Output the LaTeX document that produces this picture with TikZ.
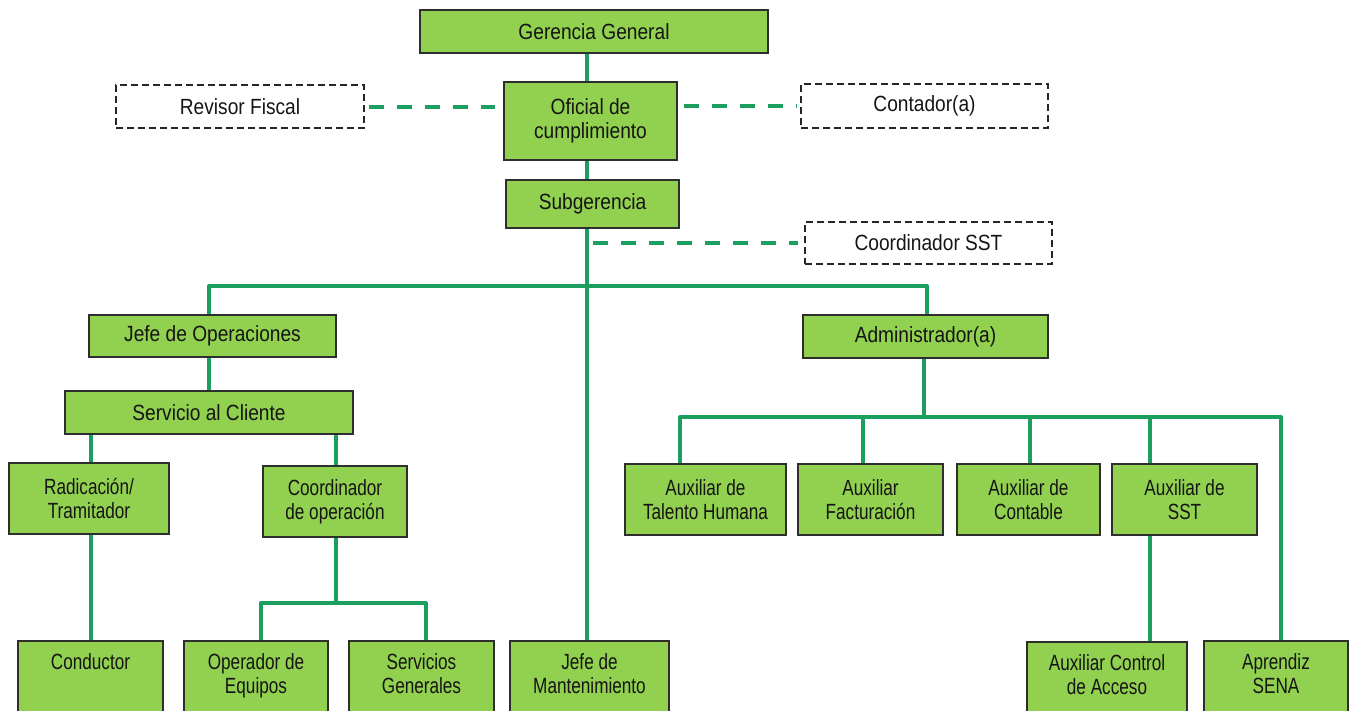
\documentclass[tikz,border=0pt]{standalone}
\usepackage{fontspec}
\setmainfont{Liberation Sans}
\newfontfamily\wideF[FakeStretch=0.87]{Liberation Sans}
\newfontfamily\narrowF[FakeStretch=0.78]{Liberation Sans}
\definecolor{boxgreen}{HTML}{92D050}
\definecolor{linegreen}{HTML}{1B9E5E}
\definecolor{txt}{HTML}{151515}
\definecolor{edge}{HTML}{2E2E2E}
\begin{document}
\begin{tikzpicture}[x=1pt,y=-1pt,
  box/.style={draw=edge, line width=1.5pt, fill=boxgreen, text=txt, align=center, inner sep=0pt},
  wbox/.style={box, font=\wideF\fontsize{22}{24}\selectfont},
  nbox/.style={box, font=\narrowF\fontsize{22}{24}\selectfont},
  dbox/.style={draw=black!85, dash pattern=on 7pt off 4pt, line width=1.3pt, fill=white, text=txt, align=center, inner sep=0pt, font=\wideF\fontsize{22}{24}\selectfont},
  conn/.style={draw=linegreen, line width=4pt, line join=round},
  dconn/.style={draw=linegreen, line width=4pt, dash pattern=on 15pt off 13pt},
]
\useasboundingbox (0,0) rectangle (1354,710);
\clip (0,0) rectangle (1354,710);

% top level
\node[wbox, minimum width=348pt, minimum height=43pt] (gg) at (594,31.5) {Gerencia General};
\node[wbox, minimum width=173pt, minimum height=78pt] (ofc) at (590.5,121) {Oficial de\\cumplimiento};
\node[dbox, minimum width=248pt, minimum height=43pt] (rev) at (240,106.5) {Revisor Fiscal};
\node[dbox, minimum width=247pt, minimum height=44pt] (con) at (924.5,106) {Contador(a)};
\node[wbox, minimum width=173pt, minimum height=48pt] (sub) at (592.5,204) {Subgerencia};
\node[dbox, minimum width=247pt, minimum height=42pt] (sst) at (928.5,243) {Coordinador SST};

% second level
\node[wbox, minimum width=247pt, minimum height=42pt] (jop) at (212.5,336) {Jefe de Operaciones};
\node[wbox, minimum width=245pt, minimum height=43pt] (adm) at (925.5,336.5) {Administrador(a)};
\node[wbox, minimum width=288pt, minimum height=43pt] (sac) at (209,412.5) {Servicio al Cliente};

% third level
\node[nbox, minimum width=160pt, minimum height=71pt] (rad) at (89,498.5) {Radicación/\\Tramitador};
\node[nbox, minimum width=144pt, minimum height=71pt] (cop) at (335,501.5) {Coordinador\\de operación};
\node[nbox, minimum width=161pt, minimum height=71pt] (ath) at (705.5,499.5) {Auxiliar de\\Talento Humana};
\node[nbox, minimum width=145pt, minimum height=71pt] (afa) at (870.5,499.5) {Auxiliar\\Facturación};
\node[nbox, minimum width=143pt, minimum height=71pt] (aco) at (1028.5,499.5) {Auxiliar de\\Contable};
\node[nbox, minimum width=145pt, minimum height=71pt] (asst) at (1184.5,499.5) {Auxiliar de\\SST};

% bottom level
\node[nbox, minimum width=145pt, minimum height=90pt] (cond) at (90.5,686) {Conductor\\\mbox{}\\\mbox{}};
\node[nbox, minimum width=144pt, minimum height=90pt] (oeq) at (256,686) {Operador de\\Equipos\\\mbox{}};
\node[nbox, minimum width=145pt, minimum height=90pt] (sgen) at (421.5,686) {Servicios\\Generales\\\mbox{}};
\node[nbox, minimum width=159pt, minimum height=90pt] (jman) at (589.5,686) {Jefe de\\Mantenimiento\\\mbox{}};
\node[nbox, minimum width=160pt, minimum height=90pt] (aca) at (1107,687) {Auxiliar Control\\de Acceso\\\mbox{}};
\node[nbox, minimum width=144pt, minimum height=90pt] (sena) at (1276,686) {Aprendiz\\SENA\\\mbox{}};

% helper coordinates
\coordinate (tx) at (587,0);
\coordinate (bar1) at (209,286);
\coordinate (bar2) at (927,286);
\coordinate (cx1) at (91,0);
\coordinate (cx2) at (336,0);
\coordinate (bm) at (336,603);
\coordinate (bl) at (261,603);
\coordinate (br) at (426,603);
\coordinate (ab) at (924,417);
\coordinate (al) at (680,417);
\coordinate (ar) at (1281,417);
\coordinate (xafa) at (863,417);
\coordinate (xaco) at (1030,417);
\coordinate (xsst) at (1150,417);

% solid connectors
\draw[conn] (gg.south -| tx) -- (ofc.north -| tx);
\draw[conn] (ofc.south -| tx) -- (sub.north -| tx);
\draw[conn] (sub.south -| tx) -- (jman.north -| tx);
\draw[conn] (jop.north -| bar1) -- (bar1) -- (bar2) -- (adm.north -| bar2);
\draw[conn] (jop.south -| bar1) -- (sac.north -| bar1);
\draw[conn] (sac.south -| cx1) -- (rad.north -| cx1);
\draw[conn] (rad.south -| cx1) -- (cond.north -| cx1);
\draw[conn] (sac.south -| cx2) -- (cop.north -| cx2);
\draw[conn] (cop.south -| cx2) -- (bm);
\draw[conn] (oeq.north -| bl) -- (bl) -- (br) -- (sgen.north -| br);
\draw[conn] (adm.south -| ab) -- (ab);
\draw[conn] (ath.north -| al) -- (al) -- (ar) -- (sena.north -| ar);
\draw[conn] (xafa) -- (afa.north -| xafa);
\draw[conn] (xaco) -- (aco.north -| xaco);
\draw[conn] (xsst) -- (asst.north -| xsst);
\draw[conn] (asst.south -| xsst) -- (aca.north -| xsst);

% dashed connectors
\draw[dconn] ([xshift=4pt]rev.east) -- ([xshift=-8pt]ofc.west |- rev.east);
\draw[dconn] ([xshift=6pt]ofc.east |- con.west) -- ([xshift=-4pt]con.west);
\draw[dconn] ([xshift=6pt]tx |- sst.west) -- ([xshift=-6pt]sst.west);
\end{tikzpicture}
\end{document}
